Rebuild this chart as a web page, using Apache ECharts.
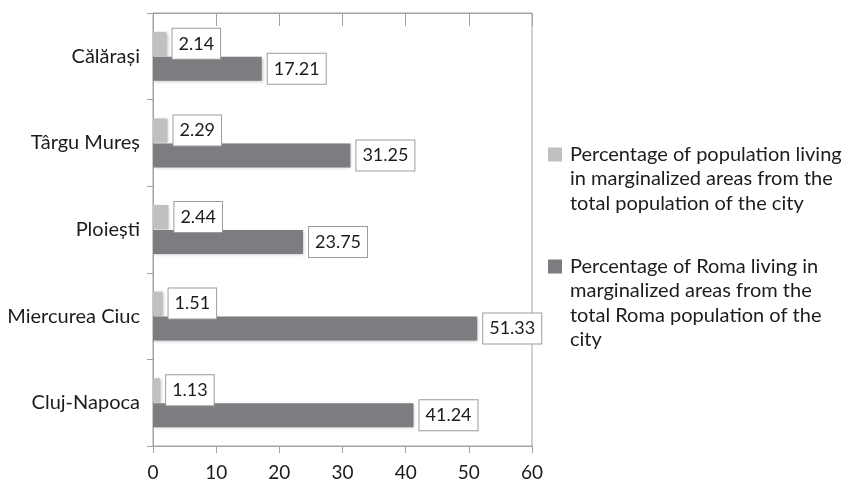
<!DOCTYPE html>
<html>
<head>
<meta charset="utf-8">
<script src="https://cdn.jsdelivr.net/npm/echarts@6/dist/echarts.min.js"></script>
<style>
html, body { margin: 0; padding: 0; background: #fff; }
#main { width: 842px; height: 482px; }
</style>
</head>
<body>
<div id="main"></div>
<script>
var cities = ['Călărași', 'Târgu Mureș', 'Ploiești', 'Miercurea Ciuc', 'Cluj-Napoca'];
var popShare = [2.14, 2.29, 2.44, 1.51, 1.13];
var romaShare = [17.21, 31.25, 23.75, 51.33, 41.24];
var xTicks = [0, 10, 20, 30, 40, 50, 60];

var popName = 'Percentage of population living in marginalized areas from the total population of the city';
var romaName = 'Percentage of Roma living in marginalized areas from the total Roma population of the city';
// wrapped text as in the original legend
var legendLines = {};
legendLines[popName] = 'Percentage of population living\nin marginalized areas from the\ntotal population of the city';
legendLines[romaName] = 'Percentage of Roma living in\nmarginalized areas from the\ntotal Roma population of the\ncity';

var font = 'Lato';
var textColor = '#1c1c1c';
var axisGray = '#a3a3a3';

var label = {
    show: true,
    position: 'right',
    distance: 6,
    color: textColor,
    fontFamily: font,
    fontSize: 18,
    lineHeight: 22,
    backgroundColor: '#fff',
    borderColor: '#9c9c9c',
    borderWidth: 1,
    padding: [4, 6]
};

var barShadow = {
    shadowColor: 'rgba(0,0,0,0.25)',
    shadowBlur: 3,
    shadowOffsetX: 1,
    shadowOffsetY: 1
};

var chart = echarts.init(document.getElementById('main'));

var option = {
    animation: false,
    backgroundColor: '#fff',
    grid: {
        left: 153,
        right: 310,
        top: 13,
        bottom: 27,
        show: true,
        borderColor: axisGray,
        borderWidth: 1
    },
    legend: {
        orient: 'vertical',
        left: 548,
        top: 130,
        padding: 0,
        itemGap: 26,
        itemWidth: 17,
        itemHeight: 98,
        selectedMode: false,
        // square drawn near the top of a tall icon box so it sits on the first line
        data: [
            { name: popName, icon: 'path://M0,0M0,17.5h14v14h-14zM17,98' },
            { name: romaName, icon: 'path://M0,0M0,5.5h14v14h-14zM17,98' }
        ],
        formatter: function(name) {
            return legendLines[name];
        },
        textStyle: {
            fontFamily: font,
            fontSize: 20,
            lineHeight: 24.5,
            color: textColor
        }
    },
    xAxis: [{
        type: 'value',
        position: 'bottom',
        min: xTicks[0],
        max: xTicks[xTicks.length - 1],
        interval: 10,
        splitLine: { show: false },
        axisLine: { show: true, lineStyle: { color: axisGray } },
        axisTick: { show: true, length: 7, lineStyle: { color: axisGray } },
        axisLabel: { color: textColor, fontFamily: font, fontSize: 19, margin: 17 }
    }, {
        type: 'value',
        position: 'top',
        min: xTicks[0],
        max: xTicks[xTicks.length - 1],
        interval: 10,
        splitLine: { show: false },
        axisLine: { show: true, lineStyle: { color: axisGray } },
        axisTick: { show: true, inside: true, length: 13, lineStyle: { color: axisGray } },
        axisLabel: { show: false }
    }],
    yAxis: {
        type: 'category',
        inverse: true,
        data: cities,
        axisLine: { show: true, lineStyle: { color: axisGray } },
        axisTick: { show: true, length: 6, lineStyle: { color: axisGray } },
        axisLabel: { color: textColor, fontFamily: font, fontSize: 20, margin: 13 }
    },
    series: [{
        name: popName,
        type: 'bar',
        data: popShare,
        barWidth: 24,
        barGap: '4%',
        itemStyle: Object.assign({ color: '#c0c0c2' }, barShadow),
        label: label
    }, {
        name: romaName,
        type: 'bar',
        data: romaShare,
        barWidth: 24,
        barGap: '4%',
        itemStyle: Object.assign({ color: '#7c7d81' }, barShadow),
        label: label
    }]
};

chart.setOption(option);
</script>
</body>
</html>
